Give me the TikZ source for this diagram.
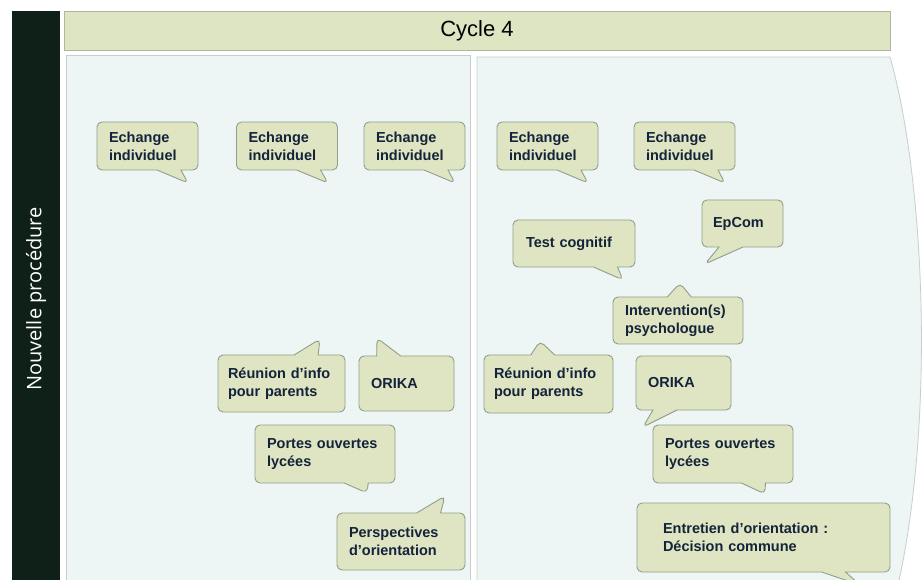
\documentclass[tikz,border=0pt]{standalone}
\usepackage{fontspec}
\setmainfont{Liberation Sans}
\newfontfamily\barfont{Open Sans}
\usepackage{xcolor}
\usepackage{tikz}
\usetikzlibrary{shapes.callouts}
\definecolor{barfond}{HTML}{0F2019}
\definecolor{entetefond}{HTML}{DDE5C3}
\definecolor{entetebord}{HTML}{AEB7A2}
\definecolor{panneaufond}{HTML}{EDF6F4}
\definecolor{panneaubord}{HTML}{C6CFCD}
\definecolor{bullefond}{HTML}{DFE5C2}
\definecolor{bullebord}{HTML}{8F9F8C}
\definecolor{texte}{HTML}{13233A}

\begin{document}
\begin{tikzpicture}[x=1pt,y=-1pt,
  bulle/.style={rectangle callout,rounded corners=5pt,draw=bullebord,fill=bullefond,line width=0.9pt,
    font=\bfseries\fontsize{14.5}{18}\selectfont,text=texte,align=left,inner xsep=12pt,callout pointer width=24pt},
  panneau/.style={draw=panneaubord,fill=panneaufond,line width=0.8pt}]
\useasboundingbox[fill=white] (0,0) rectangle (922,580);
% bandeau vertical et titre
\fill[barfond] (12,11) rectangle (60,585);
\node[rotate=90,text=white,font=\barfont\fontsize{20}{24}\selectfont] (proc) at (36,299) {Nouvelle procédure};
\draw[draw=entetebord,fill=entetefond,line width=0.8pt] (64,11) rectangle (890,50);
\node[font=\fontsize{22}{26}\selectfont,text=black] (cycle) at (477,31) {Cycle 4};
% panneaux
\draw[panneau] (66,55) rectangle (470,585);
\draw[panneau] (477,57) -- (890,57) .. controls (925,180) and (935,420) .. (898,585) -- (477,585) -- cycle;
% bulles de gauche
\node[bulle,text width=77pt,minimum height=48pt,callout absolute pointer={(188,183)}] (ech1) at (147.5,146) {Echange\\individuel};
\node[bulle,text width=77pt,minimum height=48pt,callout absolute pointer={(328,183)}] (ech2) at (287,146) {Echange\\individuel};
\node[bulle,text width=77pt,minimum height=48pt,callout absolute pointer={(455,183)}] (ech3) at (414.5,146) {Echange\\individuel};
\node[bulle,text width=107pt,inner xsep=10pt,minimum height=57pt,callout absolute pointer={(320,339)}] (reun1) at (281.5,383.5) {Réunion d'info\\pour parents};
\node[bulle,text width=71pt,minimum height=55pt,callout absolute pointer={(377,338)}] (orika1) at (406.5,383.5) {ORIKA};
\node[bulle,text width=116pt,minimum height=58pt,callout absolute pointer={(367,493)}] (portes1) at (325,454) {Portes ouvertes\\lycées};
\node[bulle,text width=104pt,minimum height=57pt,callout absolute pointer={(445,496)}] (persp) at (401,541.5) {Perspectives\\d'orientation};
% bulles de droite
\node[bulle,text width=77pt,minimum height=48pt,callout absolute pointer={(588,183)}] (ech4) at (547.5,146) {Echange\\individuel};
\node[bulle,text width=77pt,minimum height=48pt,callout absolute pointer={(725,183)}] (ech5) at (684.5,146) {Echange\\individuel};
\node[bulle,text width=96pt,inner xsep=13pt,minimum height=47pt,callout absolute pointer={(623,280)}] (test) at (574,243.5) {Test cognitif};
\node[bulle,text width=59pt,inner xsep=11pt,minimum height=47pt,callout absolute pointer={(705,264)}] (epcom) at (742.5,223.5) {EpCom};
\node[bulle,text width=106pt,minimum height=47pt,callout absolute pointer={(680,283)}] (psy) at (678,320.5) {Intervention(s)\\psychologue};
\node[bulle,text width=109pt,inner xsep=10pt,minimum height=58pt,callout absolute pointer={(540,341)}] (reun2) at (548.5,384) {Réunion d'info\\pour parents};
\node[bulle,text width=71pt,minimum height=54pt,callout absolute pointer={(643,427)}] (orika2) at (683.5,383) {ORIKA};
\node[bulle,text width=116pt,minimum height=58pt,callout absolute pointer={(765,494)}] (portes2) at (723,454) {Portes ouvertes\\lycées};
\node[bulle,text width=201pt,inner xsep=26pt,minimum height=69pt,callout absolute pointer={(860,585)}] (entretien) at (763.5,537.5) {Entretien d'orientation :\\Décision commune};
\end{tikzpicture}
\end{document}
